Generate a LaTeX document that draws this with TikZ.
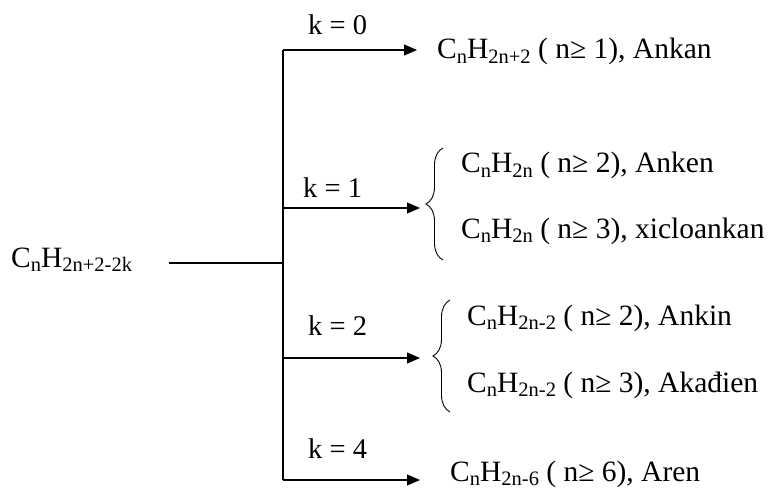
\documentclass[tikz,border=0pt]{standalone}
\usepackage{fontspec}
\setmainfont{Liberation Serif}
\usetikzlibrary{arrows.meta, decorations.pathreplacing}

\newcommand{\sub}[1]{\raisebox{-4.5pt}{\fontsize{20.5}{20.5}\selectfont #1}}

\tikzset{
  formula/.style={anchor=base west, inner sep=0pt, font=\fontsize{29.5}{34}\selectfont},
  klabel/.style={anchor=base west, inner sep=0pt, font=\fontsize{28.5}{32}\selectfont},
  branch/.style={line width=1.2pt, -{Triangle[length=13pt,width=11pt]}},
  trunk/.style={line width=1.2pt},
  curly/.style={line width=0.9pt, decorate, decoration={brace, amplitude=17pt}}
}

\begin{document}
\begin{tikzpicture}[x=1pt, y=-1pt]
    \useasboundingbox (0,0) rectangle (773,489);

    % Source formula and trunk
    \node[formula] (src) at (11,267) {C\sub{n}H\sub{2n+2-2k}};
    \coordinate (feed) at (169,263);
    \coordinate (jm) at (283,263);
    \coordinate (j0) at (283,50);
    \coordinate (j1) at (283,208);
    \coordinate (j2) at (283,358);
    \coordinate (j4) at (283,480);
    \draw[trunk] (feed) -- (jm);
    \draw[trunk] (j0) -- (j4);

    % k = 0
    \coordinate (e0) at (417,50);
    \draw[branch] (j0) -- (e0);
    \node[klabel] (k0) at (308,35) {k = 0};
    \node[formula] (ankan) at (437,59) {C\sub{n}H\sub{2n+2} ( n≥ 1), Ankan};

    % k = 1
    \coordinate (e1) at (420,208);
    \draw[branch] (j1) -- (e1);
    \node[klabel] (k1) at (303,197) {k = 1};
    \draw[curly] (443,260) -- (443,148);
    \node[formula] (anken) at (461,173) {C\sub{n}H\sub{2n} ( n≥ 2), Anken};
    \node[formula] (xiclo) at (461,238) {C\sub{n}H\sub{2n} ( n≥ 3), xicloankan};

    % k = 2
    \coordinate (e2) at (420,358);
    \draw[branch] (j2) -- (e2);
    \node[klabel] (k2) at (308,335) {k = 2};
    \draw[curly] (450,412) -- (450,300);
    \node[formula] (ankin) at (467,325) {C\sub{n}H\sub{2n-2} ( n≥ 2), Ankin};
    \node[formula] (ankadien) at (467,392) {C\sub{n}H\sub{2n-2} ( n≥ 3), Akađien};

    % k = 4
    \coordinate (e4) at (420,480);
    \draw[branch] (j4) -- (e4);
    \node[klabel] (k4) at (308,458) {k = 4};
    \node[formula] (aren) at (450,481) {C\sub{n}H\sub{2n-6} ( n≥ 6), Aren};
\end{tikzpicture}
\end{document}
